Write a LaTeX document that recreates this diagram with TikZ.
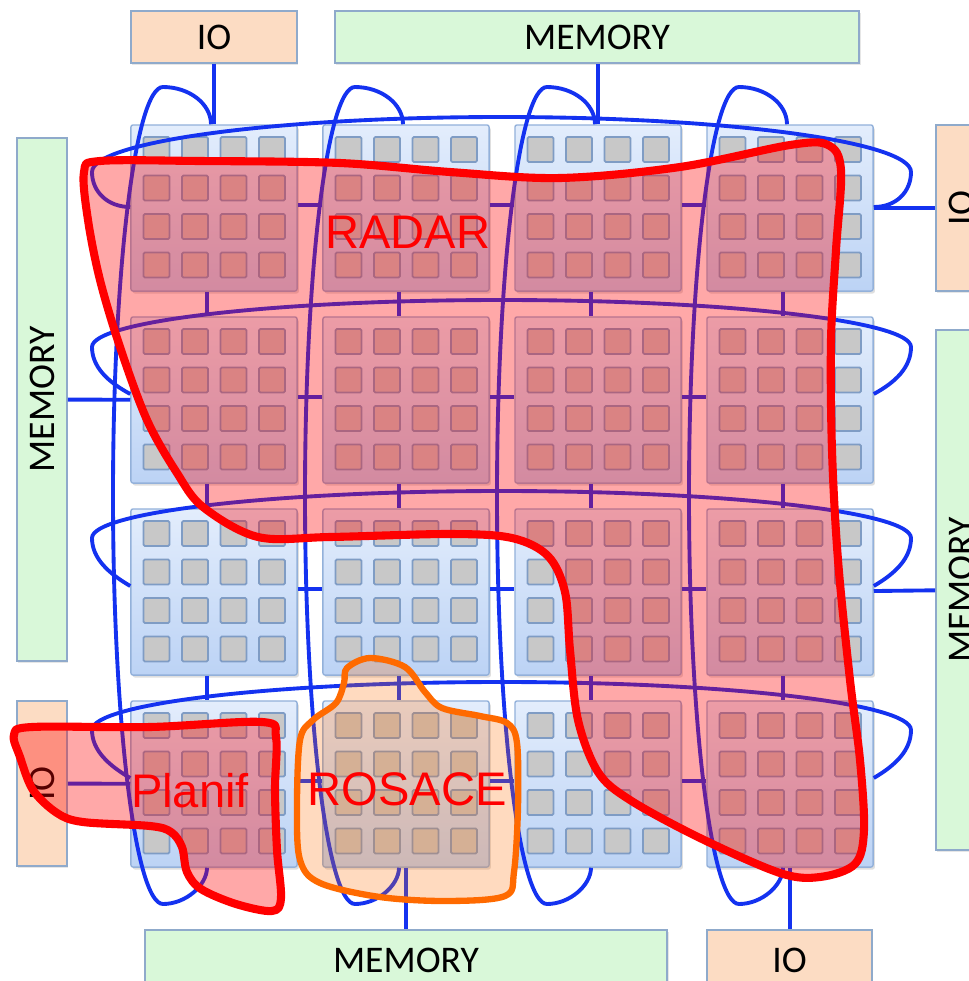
\documentclass[tikz,border=0pt]{standalone}
\usepackage{fontspec}
\newfontfamily\boxfont{Carlito}
\newfontfamily\zonefont{Liberation Sans}
\usepackage{tikz}
\usetikzlibrary{calc,shadows}
\definecolor{busblue}{HTML}{1432F0}
\definecolor{tiletop}{HTML}{E3EDFC}
\definecolor{tilebot}{HTML}{BCD3F5}
\definecolor{tileedge}{HTML}{93B1DA}
\definecolor{coregrey}{HTML}{C8C8C8}
\definecolor{coreedge}{HTML}{7F9CC4}
\definecolor{peach}{HTML}{FCDCC3}
\definecolor{mint}{HTML}{D9F8D9}
\definecolor{boxedge}{HTML}{8FAACB}
\definecolor{zonered}{HTML}{FF0000}
\definecolor{zoneorange}{HTML}{FF6A00}

\begin{document}
\begin{tikzpicture}[x=0.01cm,y=-0.01cm,
  tile/.style={draw=tileedge,line width=0.4pt,top color=tiletop,bottom color=tilebot,
               minimum width=1.66cm,minimum height=1.66cm,inner sep=0pt,rounded corners=0.6pt,
               drop shadow={shadow xshift=0.5pt,shadow yshift=-0.7pt,opacity=0.25}},
  core/.style={draw=coreedge,line width=0.5pt,fill=coregrey,rounded corners=0.4pt},
  iobox/.style={draw=boxedge,line width=0.5pt,fill=peach,inner sep=0pt,
                font=\boxfont\fontsize{10.7}{12}\selectfont,
                drop shadow={shadow xshift=0.4pt,shadow yshift=-0.6pt,opacity=0.2}},
  membox/.style={iobox,fill=mint},
  bus/.style={draw=busblue,line width=1.1pt},
  zone/.style={draw=zonered,line width=2.3pt,fill=zonered,fill opacity=0.34,line join=round},
  zonelbl/.style={text=zonered,font=\zonefont\fontsize{13.4}{15}\selectfont,inner sep=0pt}
]
\useasboundingbox (0,0) rectangle (969,981);

% IO and memory around the chip
\node[iobox,minimum width=1.66cm,minimum height=0.52cm] (ioT) at (214,37) {IO};
\node[membox,minimum width=5.24cm,minimum height=0.52cm] (memT) at (597,37) {MEMORY};
\node[membox,rotate=90,minimum width=5.23cm,minimum height=0.5cm] (memL) at (42,399.5) {MEMORY};
\node[iobox,rotate=90,minimum width=1.65cm,minimum height=0.5cm] (ioL) at (42,783.5) {IO};
\node[iobox,rotate=90,minimum width=1.66cm,minimum height=0.5cm] (ioR) at (961,208) {IO};
\node[membox,rotate=90,minimum width=5.2cm,minimum height=0.5cm] (memR) at (961,590) {MEMORY};
\node[membox,minimum width=5.22cm,minimum height=0.6cm] (memB) at (406,960) {MEMORY};
\node[iobox,minimum width=1.65cm,minimum height=0.6cm] (ioB) at (789.5,960) {IO};

% 4x4 tiles of 16 cores
\foreach \r/\T in {1/125,2/317,3/509,4/701}{
  \foreach \c/\L in {1/131,2/323,3/515,4/707}{
    \node[tile] (t\r\c) at (\L+83,\T+83) {};
    \foreach \i in {0,...,3}
      \foreach \j in {0,...,3}
        \draw[core] (\L+12.5+38.5*\i,\T+12+38.5*\j) rectangle ++(26,25);
  }
}

% links to IO and memory
\draw[bus] (ioT) -- (t11);
\draw[bus] (memT.south -| t13.north) -- (t13.north);
\draw[bus] (memL) -- (t21);
\draw[bus] (ioL) -- (t41);
\draw[bus] (t14) -- (ioR);
\draw[bus] (t34) -- (memR);
\draw[bus] (t42.south) -- (t42.south |- memB.north);
\draw[bus] (t44.south) -- (t44.south |- ioB.north);

% row buses
\foreach \r/\sh/\cy/\tp in {1/0.01/172/117,2/0.06/347/300,3/0.06/538/491,4/0.06/730/682}{
  \draw[bus] ([yshift=\sh cm]t\r1.west) .. controls (108,{\cy+35}) and (92,\cy+20) .. (92,\cy)
    .. controls (92,{\cy-0.552*(\cy-\tp)}) and (275.3,\tp) .. (501.5,\tp)
    .. controls (727.7,\tp) and (911,{\cy-0.552*(\cy-\tp)}) .. (911,\cy)
    .. controls (911,\cy+20) and (896,{\cy+35}) .. ([yshift=\sh cm]t\r4.east);
}

% column buses
\foreach \c/\L in {1/131,2/323,3/515,4/707}{
  \draw[bus] ([xshift=-0.03cm]t1\c.north) .. controls (\L+80,104) and (\L+58.5,87) .. (\L+32,87)
    .. controls (\L+4.4,87) and (\L-18,269.9) .. (\L-18,495.5)
    .. controls (\L-18,721.1) and (\L+4.4,904) .. (\L+32,904)
    .. controls (\L+55,904) and (\L+76,885) .. ([xshift=-0.07cm]t4\c.south);
}

% stubs between tiles
\foreach \r in {1,...,4}
  \foreach \c/\d in {1/2,2/3,3/4}
    \draw[bus] ([yshift=0.03cm]t\r\c.east) -- ([yshift=0.03cm]t\r\d.west);
\foreach \r/\s in {1/2,2/3,3/4}
  \foreach \c in {1,...,4}
    \draw[bus] ([xshift=-0.07cm]t\r\c.south) -- ([xshift=-0.07cm]t\s\c.north);

% application zones
\draw[zone] plot[smooth cycle,tension=0.55] coordinates {
  (84,172) (100,161) (200,161) (340,163) (450,172) (560,178) (680,167) (790,145)
  (828,145) (841,170) (836,250) (831,340) (832,450) (838,560) (850,680) (860,760)
  (864,830) (855,864) (820,877) (780,873) (700,838) (630,800) (598,772) (578,720)
  (570,650) (565,592) (548,556) (512,538) (450,534) (330,537) (258,537) (203,507)
  (177,473) (147,420) (120,347) (100,280) (88,220)};
\draw[zone] plot[smooth cycle,tension=0.55] coordinates {
  (14,735) (32,727) (150,727) (262,722) (276,737) (275,790) (277,850) (281,898)
  (272,911) (236,904) (201,889) (187,872) (182,847) (171,832) (150,826) (83,822)
  (57,813) (33,790) (20,757)};
\draw[zone,draw=zoneorange,fill=zoneorange,fill opacity=0.25,line width=1.8pt]
  plot[smooth cycle,tension=0.55] coordinates {
  (347,668) (370,658) (405,667) (425,692) (442,708) (480,716) (507,723) (517,743)
  (518,807) (514,872) (505,896) (447,901) (380,897) (320,883) (300,860) (297,807)
  (300,740) (313,720) (336,703) (344,683)};

\node[zonelbl] (radar) at (408,232) {RADAR};
\node[zonelbl] (planif) at (190,791) {Planif};
\node[zonelbl] (rosace) at (407,789) {ROSACE};
\end{tikzpicture}
\end{document}
